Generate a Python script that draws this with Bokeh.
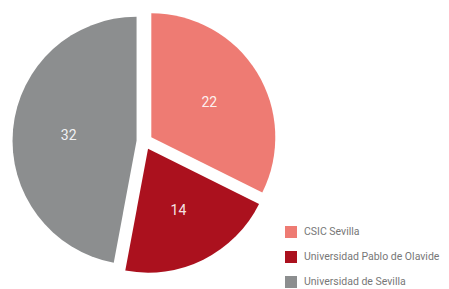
import math
from bokeh.plotting import figure
from bokeh.models import Range1d, ColumnDataSource
from bokeh.embed import file_html
from bokeh.resources import INLINE
from bokeh.core.properties import value

categories = ["CSIC Sevilla", "Universidad Pablo de Olavide", "Universidad de Sevilla"]
counts = [22, 14, 32]
colors = ["#ee7b73", "#ab111e", "#8c8e8f"]

W, H = 449, 289
p = figure(width=W, height=H, x_range=Range1d(0, W), y_range=Range1d(0, H),
           output_backend="svg", toolbar_location=None, min_border=0)
p.axis.visible = False
p.grid.visible = False
p.outline_line_color = None
p.background_fill_color = "white"

cx, cy = 144, 148
r = 124
d = 8
total = sum(counts)

xs, ys, starts, ends, txs, tys, texts = [], [], [], [], [], [], []
cum = 0
for v in counts:
    a0 = math.radians(90 - cum * 360.0 / total)
    a1 = math.radians(90 - (cum + v) * 360.0 / total)
    mid = (a0 + a1) / 2
    ox = cx + d * math.cos(mid)
    oy = cy + d * math.sin(mid)
    xs.append(ox); ys.append(oy)
    starts.append(a0); ends.append(a1)
    txs.append(ox + 0.55 * r * math.cos(mid))
    tys.append(oy + 0.55 * r * math.sin(mid))
    texts.append(str(v))
    cum += v

src = ColumnDataSource(dict(x=xs, y=ys, start=starts, end=ends, color=colors,
                            label=categories, tx=txs, ty=tys, text=texts))

p.wedge(x="x", y="y", radius=r, start_angle="start", end_angle="end",
        direction="clock", fill_color="color", line_color=None, source=src,
        legend_field="label")

p.text(x="tx", y="ty", text="text", source=src, text_color="white",
       text_alpha=0.9, text_font=value("Roboto"), text_font_size="14px",
       text_align="center", text_baseline="middle")

lg = p.legend[0]
lg.location = (283, 0)
lg.padding = 0
lg.margin = 0
lg.border_line_color = None
lg.background_fill_alpha = 0
lg.glyph_width = 15
lg.glyph_height = 15
lg.label_height = 15
lg.spacing = 10
lg.label_standoff = 6
lg.label_text_font = "Roboto"
lg.label_text_font_size = "10.5px"
lg.label_text_color = "#777777"

open("out.html", "w").write(file_html(p, INLINE))
